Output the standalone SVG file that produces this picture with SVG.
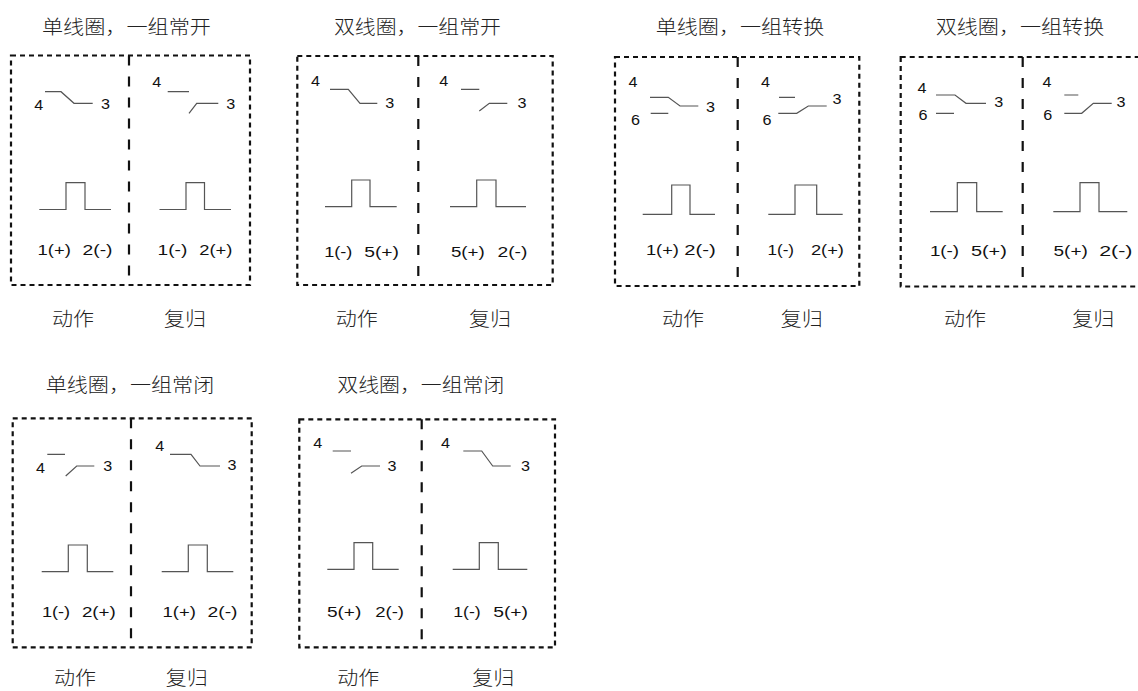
<svg xmlns="http://www.w3.org/2000/svg" width="1138" height="691" viewBox="0 0 1138 691">
<style>
.cj{font-family:"Noto Sans CJK SC","Noto Sans",sans-serif;font-size:19px;font-weight:300;fill:#222}
.lb{font-family:"Noto Sans CJK SC","Noto Sans",sans-serif;font-size:19px;font-weight:300;fill:#222}
.n{font-family:"Liberation Sans",Arial,sans-serif;font-size:14px;fill:#111}
.sw{fill:none;stroke:#555;stroke-width:1.2}
.bx{fill:none;stroke:#111;stroke-width:2.2;stroke-dasharray:5 4}
.dv{fill:none;stroke:#111;stroke-width:2.2;stroke-dasharray:10 11}
</style>
<rect width="1138" height="691" fill="#fff"/>

<g id="panelA">
<text class="cj" x="42" y="33.5" textLength="169" lengthAdjust="spacingAndGlyphs">单线圈，一组常开</text>
<rect class="bx" x="11" y="55.5" width="239" height="229.5"/>
<line class="dv" x1="129" y1="55.5" x2="129" y2="285"/>
<text class="n" x="34.3" y="110" textLength="9" lengthAdjust="spacingAndGlyphs">4</text>
<path class="sw" d="M45,91.7 H61 L74,103.3 H92.7"/>
<text class="n" x="101" y="108.5" textLength="9" lengthAdjust="spacingAndGlyphs">3</text>
<path class="sw" d="M39.3,209.5 H66 V182.7 H85 V209.5 H111"/>
<text class="n" x="37.5" y="255" textLength="33.3" lengthAdjust="spacingAndGlyphs">1(+)</text>
<text class="n" x="82.5" y="255" textLength="30" lengthAdjust="spacingAndGlyphs">2(-)</text>
<text class="n" x="152.3" y="87" textLength="9" lengthAdjust="spacingAndGlyphs">4</text>
<path class="sw" d="M167.7,91.7 H189 M189,113.3 L196.7,103.3 H218.3"/>
<text class="n" x="226.3" y="108.5" textLength="9" lengthAdjust="spacingAndGlyphs">3</text>
<path class="sw" d="M159.5,209.5 H186 V182.7 H204.5 V209.5 H231"/>
<text class="n" x="157.5" y="255" textLength="29.8" lengthAdjust="spacingAndGlyphs">1(-)</text>
<text class="n" x="199.2" y="255" textLength="33.2" lengthAdjust="spacingAndGlyphs">2(+)</text>
<text class="lb" x="52" y="326" textLength="42" lengthAdjust="spacingAndGlyphs">动作</text>
<text class="lb" x="164" y="326" textLength="42" lengthAdjust="spacingAndGlyphs">复归</text>
</g>

<g id="panelB">
<text class="cj" x="334" y="33.5" textLength="167" lengthAdjust="spacingAndGlyphs">双线圈，一组常开</text>
<rect class="bx" x="297.3" y="56" width="255.4" height="229"/>
<line class="dv" x1="418.3" y1="56" x2="418.3" y2="285"/>
<text class="n" x="311" y="86" textLength="9" lengthAdjust="spacingAndGlyphs">4</text>
<path class="sw" d="M330,89.3 H348.3 L360,103.3 H377.3"/>
<text class="n" x="385.3" y="108" textLength="9" lengthAdjust="spacingAndGlyphs">3</text>
<path class="sw" d="M325,206.7 H351.7 V180 H370 V206.7 H396.7"/>
<text class="n" x="324.2" y="256.7" textLength="28.2" lengthAdjust="spacingAndGlyphs">1(-)</text>
<text class="n" x="364.2" y="256.7" textLength="34.8" lengthAdjust="spacingAndGlyphs">5(+)</text>
<text class="n" x="439.3" y="86" textLength="9" lengthAdjust="spacingAndGlyphs">4</text>
<path class="sw" d="M461,89.3 H479.3 M479.3,111 L489.3,103.3 H507.3"/>
<text class="n" x="517.6" y="108" textLength="9" lengthAdjust="spacingAndGlyphs">3</text>
<path class="sw" d="M450,206.7 H476.7 V180 H496 V206.7 H526"/>
<text class="n" x="450.9" y="256.7" textLength="33.8" lengthAdjust="spacingAndGlyphs">5(+)</text>
<text class="n" x="497.5" y="256.7" textLength="29.9" lengthAdjust="spacingAndGlyphs">2(-)</text>
<text class="lb" x="335.7" y="326" textLength="42" lengthAdjust="spacingAndGlyphs">动作</text>
<text class="lb" x="469" y="326" textLength="42" lengthAdjust="spacingAndGlyphs">复归</text>
</g>

<g id="panelC">
<text class="cj" x="655.7" y="33.5" textLength="168.6" lengthAdjust="spacingAndGlyphs">单线圈，一组转换</text>
<rect class="bx" x="615" y="57" width="244.3" height="229"/>
<line class="dv" x1="737.7" y1="57" x2="737.7" y2="286"/>
<text class="n" x="628.6" y="87.3" textLength="9" lengthAdjust="spacingAndGlyphs">4</text>
<text class="n" x="631" y="125" textLength="9" lengthAdjust="spacingAndGlyphs">6</text>
<path class="sw" d="M650,97.3 H668.3 L680,106 H698.3 M650.7,113.3 H668.3"/>
<text class="n" x="706" y="111.7" textLength="9" lengthAdjust="spacingAndGlyphs">3</text>
<path class="sw" d="M642.7,214.3 H671.7 V185 H690 V214.3 H715"/>
<text class="n" x="645.9" y="255" textLength="33.1" lengthAdjust="spacingAndGlyphs">1(+)</text>
<text class="n" x="684.2" y="255" textLength="31.5" lengthAdjust="spacingAndGlyphs">2(-)</text>
<text class="n" x="761" y="87.3" textLength="9" lengthAdjust="spacingAndGlyphs">4</text>
<text class="n" x="762.6" y="124.5" textLength="9" lengthAdjust="spacingAndGlyphs">6</text>
<path class="sw" d="M779,97.3 H795 M778.3,113.3 H796.7 L808.3,106 H826.7"/>
<text class="n" x="832.6" y="104" textLength="9" lengthAdjust="spacingAndGlyphs">3</text>
<path class="sw" d="M768.3,214.3 H795 V185 H816.7 V214.3 H842.7"/>
<text class="n" x="767.5" y="255" textLength="26.5" lengthAdjust="spacingAndGlyphs">1(-)</text>
<text class="n" x="810.9" y="255" textLength="33.1" lengthAdjust="spacingAndGlyphs">2(+)</text>
<text class="lb" x="662" y="326" textLength="42" lengthAdjust="spacingAndGlyphs">动作</text>
<text class="lb" x="780.7" y="326" textLength="42" lengthAdjust="spacingAndGlyphs">复归</text>
</g>

<g id="panelD">
<text class="cj" x="935.7" y="33.5" textLength="168.6" lengthAdjust="spacingAndGlyphs">双线圈，一组转换</text>
<rect class="bx" x="900.7" y="57" width="250" height="229.5"/>
<line class="dv" x1="1022.7" y1="57" x2="1022.7" y2="286.5"/>
<text class="n" x="917.6" y="92.7" textLength="9" lengthAdjust="spacingAndGlyphs">4</text>
<text class="n" x="918.6" y="120" textLength="9" lengthAdjust="spacingAndGlyphs">6</text>
<path class="sw" d="M936,95 H955 L966,103.3 H986 M936,113.3 H954"/>
<text class="n" x="994.3" y="107.3" textLength="9" lengthAdjust="spacingAndGlyphs">3</text>
<path class="sw" d="M930,211.7 H957.3 V182.7 H976.7 V211.7 H1002.7"/>
<text class="n" x="929.9" y="256" textLength="29.2" lengthAdjust="spacingAndGlyphs">1(-)</text>
<text class="n" x="970.9" y="256" textLength="35.9" lengthAdjust="spacingAndGlyphs">5(+)</text>
<text class="n" x="1042.6" y="87.3" textLength="9" lengthAdjust="spacingAndGlyphs">4</text>
<text class="n" x="1043.3" y="120" textLength="9" lengthAdjust="spacingAndGlyphs">6</text>
<path class="sw" d="M1064.3,95 H1078.3 M1064.3,113.3 H1081.7 L1093.3,103.3 H1111.7"/>
<text class="n" x="1116.6" y="107.3" textLength="9" lengthAdjust="spacingAndGlyphs">3</text>
<path class="sw" d="M1053.3,211.7 H1080 V182.7 H1099 V211.7 H1127.3"/>
<text class="n" x="1053.5" y="256" textLength="34.3" lengthAdjust="spacingAndGlyphs">5(+)</text>
<text class="n" x="1099.2" y="256" textLength="33.3" lengthAdjust="spacingAndGlyphs">2(-)</text>
<text class="lb" x="944" y="326" textLength="42" lengthAdjust="spacingAndGlyphs">动作</text>
<text class="lb" x="1072.3" y="326" textLength="42" lengthAdjust="spacingAndGlyphs">复归</text>
</g>

<g id="panelE">
<text class="cj" x="45.7" y="392" textLength="168.6" lengthAdjust="spacingAndGlyphs">单线圈，一组常闭</text>
<rect class="bx" x="12.7" y="418.3" width="239" height="229"/>
<line class="dv" x1="131" y1="418.3" x2="131" y2="647.3"/>
<text class="n" x="36" y="472.7" textLength="9" lengthAdjust="spacingAndGlyphs">4</text>
<path class="sw" d="M47.3,454.3 H65 M65.7,476 L76.7,466 H94.3"/>
<text class="n" x="103.3" y="471" textLength="9" lengthAdjust="spacingAndGlyphs">3</text>
<path class="sw" d="M41.7,571.7 H68.3 V545 H87.3 V571.7 H113.3"/>
<text class="n" x="41.9" y="616.7" textLength="28.2" lengthAdjust="spacingAndGlyphs">1(-)</text>
<text class="n" x="81.9" y="616.7" textLength="33.9" lengthAdjust="spacingAndGlyphs">2(+)</text>
<text class="n" x="155.3" y="450.7" textLength="9" lengthAdjust="spacingAndGlyphs">4</text>
<path class="sw" d="M170,454.3 H191 L200,466 H220"/>
<text class="n" x="227.6" y="470" textLength="9" lengthAdjust="spacingAndGlyphs">3</text>
<path class="sw" d="M161.7,571.7 H188.3 V545 H207.3 V571.7 H233.3"/>
<text class="n" x="162.5" y="616.7" textLength="33.3" lengthAdjust="spacingAndGlyphs">1(+)</text>
<text class="n" x="207.5" y="616.7" textLength="30" lengthAdjust="spacingAndGlyphs">2(-)</text>
<text class="lb" x="54" y="685" textLength="42" lengthAdjust="spacingAndGlyphs">动作</text>
<text class="lb" x="165.7" y="685" textLength="42" lengthAdjust="spacingAndGlyphs">复归</text>
</g>

<g id="panelF">
<text class="cj" x="337.3" y="392" textLength="167" lengthAdjust="spacingAndGlyphs">双线圈，一组常闭</text>
<rect class="bx" x="299.3" y="419.3" width="255.7" height="228"/>
<line class="dv" x1="421.7" y1="419.3" x2="421.7" y2="647.3"/>
<text class="n" x="313.3" y="448.3" textLength="9" lengthAdjust="spacingAndGlyphs">4</text>
<path class="sw" d="M332.7,451 H351 M351,473.3 L361.7,466 H380"/>
<text class="n" x="387.6" y="471" textLength="9" lengthAdjust="spacingAndGlyphs">3</text>
<path class="sw" d="M327.3,569.3 H354 V542.7 H372.7 V569.3 H398.7"/>
<text class="n" x="326.9" y="616.7" textLength="34.5" lengthAdjust="spacingAndGlyphs">5(+)</text>
<text class="n" x="375.2" y="616.7" textLength="28.8" lengthAdjust="spacingAndGlyphs">2(-)</text>
<text class="n" x="441" y="448.3" textLength="9" lengthAdjust="spacingAndGlyphs">4</text>
<path class="sw" d="M463.3,451 H481.7 L492.7,466 H510.7"/>
<text class="n" x="521" y="471" textLength="9" lengthAdjust="spacingAndGlyphs">3</text>
<path class="sw" d="M452.7,569.3 H479.3 V542.7 H498.3 V569.3 H527.3"/>
<text class="n" x="453.2" y="616.7" textLength="27.5" lengthAdjust="spacingAndGlyphs">1(-)</text>
<text class="n" x="493.2" y="616.7" textLength="34.8" lengthAdjust="spacingAndGlyphs">5(+)</text>
<text class="lb" x="337.3" y="685" textLength="42" lengthAdjust="spacingAndGlyphs">动作</text>
<text class="lb" x="472.3" y="685" textLength="42" lengthAdjust="spacingAndGlyphs">复归</text>
</g>
</svg>
